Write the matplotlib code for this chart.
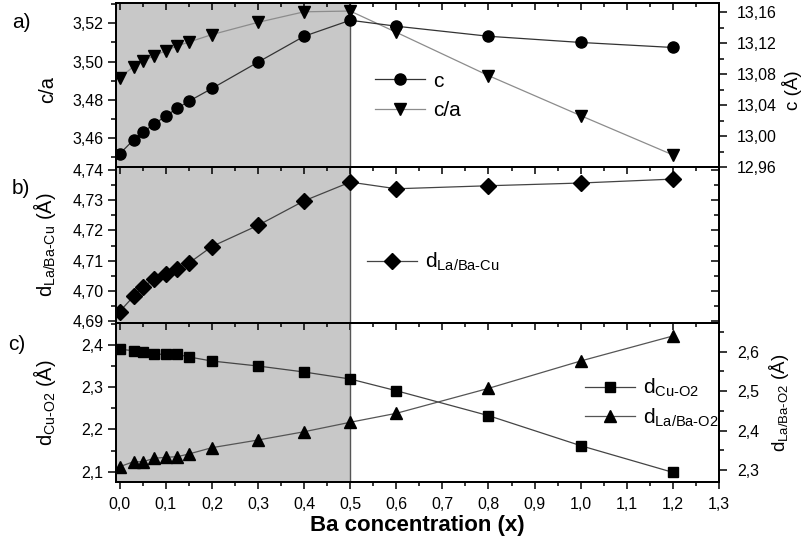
import matplotlib
matplotlib.use('Agg')
import matplotlib.pyplot as plt
from matplotlib.ticker import MultipleLocator, FuncFormatter

plt.rcParams['font.family'] = ['Liberation Sans', 'DejaVu Sans']
plt.rcParams['mathtext.fontset'] = 'custom'
plt.rcParams['mathtext.rm'] = 'Liberation Sans'
plt.rcParams['mathtext.it'] = 'Liberation Sans:italic'
plt.rcParams['mathtext.bf'] = 'Liberation Sans:bold'
plt.rcParams['mathtext.default'] = 'regular'

# ---- data ----
x = [0, 0.03, 0.05, 0.075, 0.1, 0.125, 0.15, 0.2, 0.3, 0.4, 0.5, 0.6, 0.8, 1.0, 1.2]
c_ang = [12.977, 12.995, 13.005, 13.0155, 13.026, 13.036, 13.045, 13.0615, 13.0955,
         13.129, 13.1497, 13.142, 13.129, 13.121, 13.1145]
c_over_a = [3.4916, 3.4974, 3.5003, 3.5031, 3.5057, 3.5082, 3.5102, 3.5141, 3.5205,
            3.5260, 3.5264, 3.5153, 3.4927, 3.4718, 3.4513]
d_labacu = [4.6932, 4.6982, 4.7012, 4.7040, 4.7057, 4.7074, 4.7092, 4.7147, 4.7217,
            4.7298, 4.7360, 4.7338, 4.7348, 4.7357, 4.7370]
d_cuo2 = [2.3898, 2.3865, 2.3841, 2.378, 2.378, 2.378, 2.3716, 2.362, 2.3502,
          2.336, 2.3194, 2.2917, 2.2327, 2.1616, 2.0984]
d_labao2 = [2.3084, 2.321, 2.321, 2.3297, 2.3322, 2.3338, 2.3406, 2.3566, 2.376,
            2.397, 2.421, 2.4437, 2.507, 2.5764, 2.6398]
shade_end = 0.5
xlims = (-0.008, 1.3)

W, H = 802, 544
fig = plt.figure(figsize=(W / 100, H / 100), dpi=100)


def rect(top, bottom, left=116, right=719):
    return [left / W, 1 - bottom / H, (right - left) / W, (bottom - top) / H]


def comma(n):
    return FuncFormatter(lambda v, p: f'{v:.{n}f}'.replace('.', ','))


ax_a = fig.add_axes(rect(3, 167))
ax_b = fig.add_axes(rect(167, 323))
ax_c = fig.add_axes(rect(323, 482))

TICK_FS = 11.5
LAB_FS = 14.5
RLAB_FS = 13.5
LEG_FS = 15
SPW = 1.3

for ax in (ax_a, ax_b, ax_c):
    ax.set_xlim(*xlims)
    ax.axvspan(xlims[0], shade_end, color='#c8c8c8', lw=0, zorder=0)
    ax.axvline(shade_end, color='#555555', lw=1.0, zorder=1)
    ax.xaxis.set_major_locator(MultipleLocator(0.1))
    ax.xaxis.set_minor_locator(MultipleLocator(0.05))
    ax.xaxis.set_major_formatter(comma(1))
    for s in ax.spines.values():
        s.set_linewidth(SPW)
        s.set_zorder(5)
    ax.tick_params(axis='y', which='both', direction='out', labelsize=TICK_FS, width=1.1, pad=3)
    ax.tick_params(axis='y', which='major', length=6)
    ax.tick_params(axis='y', which='minor', length=3.5)

# x ticks: top inward for a and b, bottom none
for ax in (ax_a, ax_b):
    ax.tick_params(axis='x', which='both', top=True, bottom=False, direction='in',
                   labelbottom=False, labeltop=False, width=1.1)
    ax.tick_params(axis='x', which='major', length=5)
    ax.tick_params(axis='x', which='minor', length=3)

ax_c.tick_params(axis='x', which='both', direction='out', labelsize=TICK_FS, width=1.1, pad=6)
ax_c.tick_params(axis='x', which='major', length=5)
ax_c.tick_params(axis='x', which='minor', length=3)
sec = ax_c.secondary_xaxis('top')
sec.xaxis.set_major_locator(MultipleLocator(0.1))
sec.xaxis.set_minor_locator(MultipleLocator(0.05))
sec.tick_params(axis='x', which='both', direction='in', labeltop=False, width=1.1)
sec.tick_params(axis='x', which='major', length=5)
sec.tick_params(axis='x', which='minor', length=3)
sec.spines['top'].set_linewidth(SPW)

MEC = 'black'
RPAD = 7
LX = -0.097

# ---- panel a ----
ax_a.set_ylim(3.445, 3.5306)
ax_a.yaxis.set_major_locator(MultipleLocator(0.02))
ax_a.yaxis.set_minor_locator(MultipleLocator(0.01))
ax_a.yaxis.set_major_formatter(comma(2))
la, = ax_a.plot(x, c_over_a, color='#8c8c8c', lw=0.9, marker='v', ms=8.5,
                mfc='black', mec=MEC, zorder=3, label='c/a')
ax_a.set_ylabel('c/a', fontsize=LAB_FS)
ax_a.yaxis.set_label_coords(LX, 0.47)

ax_a2 = ax_a.twinx()
ax_a2.set_ylim(12.96, 13.172)
ax_a2.yaxis.set_major_locator(MultipleLocator(0.04))
ax_a2.yaxis.set_minor_locator(MultipleLocator(0.02))
ax_a2.yaxis.set_major_formatter(comma(2))
ax_a2.tick_params(axis='y', which='both', direction='out', labelsize=TICK_FS, width=1.1, pad=RPAD)
ax_a2.tick_params(axis='y', which='major', length=6)
ax_a2.tick_params(axis='y', which='minor', length=3.5)
lc, = ax_a2.plot(x, c_ang, color='#333333', lw=0.9, marker='o', ms=8,
                 mfc='black', mec=MEC, zorder=3, label='c')
ax_a2.set_ylabel('c (Å)', fontsize=RLAB_FS)
ax_a2.yaxis.set_label_coords(1.104, 0.47)
for s in ax_a2.spines.values():
    s.set_linewidth(SPW)

ax_a2.legend([lc, la], ['c', 'c/a'], loc='center left',
             bbox_to_anchor=(375 / W, 1 - 96 / H), bbox_transform=fig.transFigure,
             frameon=False, fontsize=LEG_FS, handlelength=2.4, handletextpad=0.4,
             borderpad=0, borderaxespad=0, labelspacing=0.5)

# ---- panel b ----
ax_b.set_ylim(4.6894, 4.741)
ax_b.yaxis.set_major_locator(MultipleLocator(0.01))
ax_b.yaxis.set_minor_locator(MultipleLocator(0.005))
ax_b.yaxis.set_major_formatter(comma(2))
ld, = ax_b.plot(x, d_labacu, color='#444444', lw=0.9, marker='D', ms=8,
                mfc='black', mec=MEC, zorder=3)
ax_b.set_ylabel(r'd$_{\text{La/Ba-Cu}}$ (Å)', fontsize=LAB_FS)
ax_b.yaxis.set_label_coords(LX, 0.5)
ax_b2 = ax_b.twinx()
ax_b2.set_ylim(ax_b.get_ylim())
ax_b2.yaxis.set_major_locator(MultipleLocator(0.01))
ax_b2.yaxis.set_minor_locator(MultipleLocator(0.005))
ax_b2.tick_params(axis='y', which='both', direction='in', labelright=False, width=1.1)
ax_b2.tick_params(axis='y', which='major', length=6)
ax_b2.tick_params(axis='y', which='minor', length=3.5)
for s in ax_b2.spines.values():
    s.set_linewidth(SPW)
ax_b.legend([ld], [r'd$_{\text{La/Ba-Cu}}$'], loc='center left',
            bbox_to_anchor=(367 / W, 1 - 262 / H), bbox_transform=fig.transFigure,
            frameon=False, fontsize=LEG_FS, handlelength=2.4, handletextpad=0.4,
            borderpad=0, borderaxespad=0)

# ---- panel c ----
ax_c.set_ylim(2.0756, 2.452)
ax_c.yaxis.set_major_locator(MultipleLocator(0.1))
ax_c.yaxis.set_minor_locator(MultipleLocator(0.05))
ax_c.yaxis.set_major_formatter(comma(1))
ls, = ax_c.plot(x, d_cuo2, color='#444444', lw=0.9, marker='s', ms=7,
                mfc='black', mec=MEC, zorder=3)
ax_c.set_ylabel(r'd$_{\text{Cu-O2}}$ (Å)', fontsize=LAB_FS)
ax_c.yaxis.set_label_coords(LX, 0.5)
ax_c.set_xlabel('Ba concentration (x)', fontsize=16, fontweight='bold', labelpad=2)

ax_c2 = ax_c.twinx()
ax_c2.set_ylim(2.2696, 2.6727)
ax_c2.yaxis.set_major_locator(MultipleLocator(0.1))
ax_c2.yaxis.set_minor_locator(MultipleLocator(0.05))
ax_c2.yaxis.set_major_formatter(comma(1))
ax_c2.tick_params(axis='y', which='both', direction='out', labelsize=TICK_FS, width=1.1, pad=RPAD)
ax_c2.tick_params(axis='y', which='major', length=6)
ax_c2.tick_params(axis='y', which='minor', length=3.5)
lt, = ax_c2.plot(x, d_labao2, color='#555555', lw=0.9, marker='^', ms=8.5,
                 mfc='black', mec=MEC, zorder=3)
ax_c2.set_ylabel(r'd$_{\text{La/Ba-O2}}$ (Å)', fontsize=RLAB_FS)
ax_c2.yaxis.set_label_coords(1.08, 0.5)
for s in ax_c2.spines.values():
    s.set_linewidth(SPW)
ax_c2.legend([ls, lt], [r'd$_{\text{Cu-O2}}$', r'd$_{\text{La/Ba-O2}}$'], loc='center left',
             bbox_to_anchor=(585 / W, 1 - 403 / H), bbox_transform=fig.transFigure,
             frameon=False, fontsize=LEG_FS, handlelength=2.4, handletextpad=0.4,
             borderpad=0, borderaxespad=0, labelspacing=0.35)

# panel labels
fig.text(12 / W, 1 - 22 / H, 'a)', fontsize=15, va='center', ha='left')
fig.text(12 / W, 1 - 188 / H, 'b)', fontsize=15, va='center', ha='left')
fig.text(8 / W, 1 - 345 / H, 'c)', fontsize=15, va='center', ha='left')

fig.savefig('out.png', dpi=100)
